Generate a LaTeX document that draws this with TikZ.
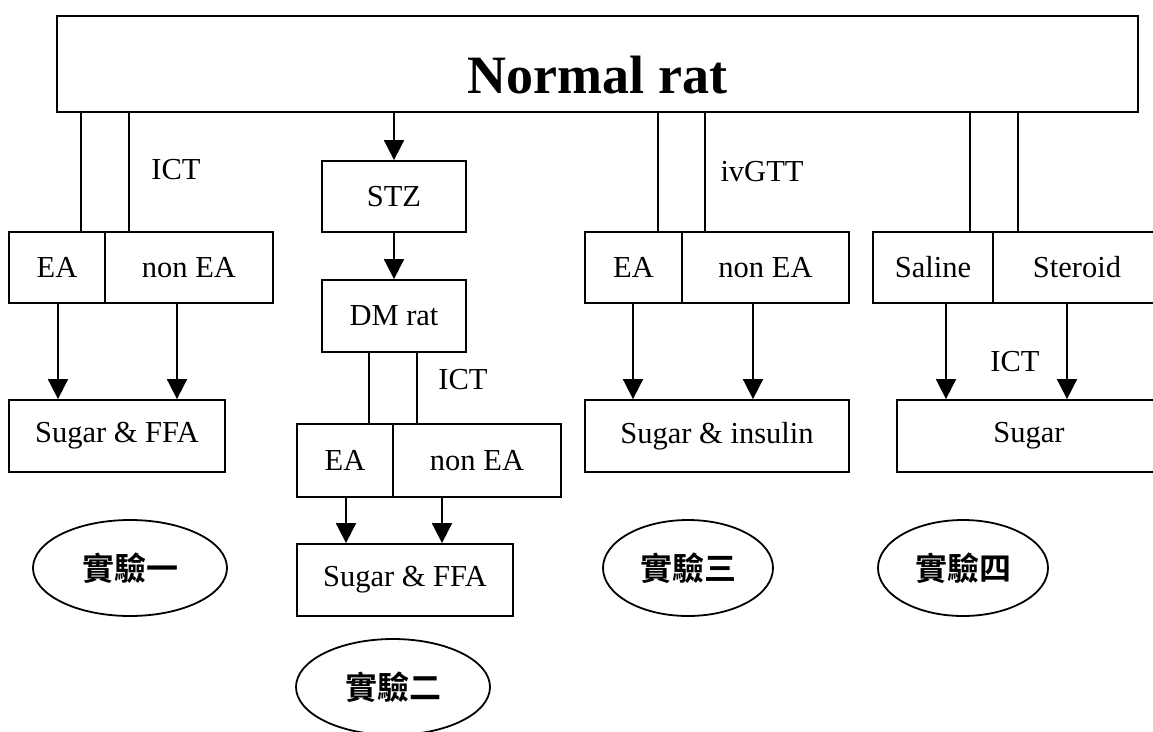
\documentclass[tikz,border=0pt]{standalone}
\usepackage{fontspec}
\setmainfont{Liberation Serif}
\newfontfamily\cjk{Noto Sans CJK TC}[BoldFont={Noto Sans CJK TC Bold}]
\usetikzlibrary{arrows.meta,shapes.geometric}

\begin{document}
\begin{tikzpicture}[x=1pt,y=-1pt,line width=1.8pt,
  every node/.style={font=\fontsize{30.5pt}{36pt}\selectfont},
  box/.style={draw,rectangle,inner sep=0pt},
  arr/.style={-{Triangle[length=20pt,width=20pt]}},
  expt/.style={draw,ellipse,inner sep=0pt,minimum height=96pt,font=\cjk\bfseries\fontsize{32pt}{38pt}\selectfont}]
\useasboundingbox (0,0) rectangle (1153,731);
\clip (0,0) rectangle (1153,731);
% top box
\node[box,minimum width=1081pt,minimum height=96pt] (top) at (597.5,64) {};
\node[anchor=base,font=\bfseries\fontsize{54pt}{60pt}\selectfont] (toptext) at (597.5,93) {Normal rat};
% experiment 1
\node[box,minimum width=96pt,minimum height=71pt] (ea1) at (57,267.5) {EA};
\node[box,minimum width=168pt,minimum height=71pt] (non1) at (189,267.5) {non EA};
\node[box,minimum width=216pt,minimum height=72pt] (sug1) at (117,436) {Sugar \& FFA};
\coordinate (l1a) at (81,232); \coordinate (l1b) at (129,232);
\draw (l1a) -- (l1a |- top.south);
\draw (l1b) -- (l1b |- top.south);
\node (ict1) at (176,170) {ICT};
\coordinate (d1a) at (58,303); \coordinate (d1b) at (177,303);
\draw[arr] (d1a) -- (d1a |- sug1.north);
\draw[arr] (d1b) -- (d1b |- sug1.north);
\node[expt,minimum width=194pt] (exp1) at (130,568) {實驗一};
% experiment 2
\node[box,minimum width=144pt,minimum height=71pt] (stz) at (394,196.5) {STZ};
\node[box,minimum width=144pt,minimum height=72pt] (dm) at (394,316) {DM rat};
\draw[arr] (top.south -| stz.north) -- (stz.north);
\draw[arr] (stz.south) -- (dm.north);
\node[box,minimum width=96pt,minimum height=73pt] (ea2) at (345,460.5) {EA};
\node[box,minimum width=168pt,minimum height=73pt] (non2) at (477,460.5) {non EA};
\node[box,minimum width=216pt,minimum height=72pt] (sug2) at (405,580) {Sugar \& FFA};
\coordinate (l2a) at (369,424); \coordinate (l2b) at (417,424);
\draw (l2a) -- (l2a |- dm.south);
\draw (l2b) -- (l2b |- dm.south);
\node (ict2) at (463,380) {ICT};
\coordinate (d2a) at (346,497); \coordinate (d2b) at (442,497);
\draw[arr] (d2a) -- (d2a |- sug2.north);
\draw[arr] (d2b) -- (d2b |- sug2.north);
\node[expt,minimum width=194pt] (exp2) at (393,687) {實驗二};
% experiment 3
\node[box,minimum width=97pt,minimum height=71pt] (ea3) at (633.5,267.5) {EA};
\node[box,minimum width=167pt,minimum height=71pt] (non3) at (765.5,267.5) {non EA};
\node[box,minimum width=264pt,minimum height=72pt] (sug3) at (717,436) {Sugar \& insulin};
\coordinate (l3a) at (658,232); \coordinate (l3b) at (705,232);
\draw (l3a) -- (l3a |- top.south);
\draw (l3b) -- (l3b |- top.south);
\node (ivgtt) at (762,172) {ivGTT};
\coordinate (d3a) at (633,303); \coordinate (d3b) at (753,303);
\draw[arr] (d3a) -- (d3a |- sug3.north);
\draw[arr] (d3b) -- (d3b |- sug3.north);
\node[expt,minimum width=170pt] (exp3) at (688,568) {實驗三};
% experiment 4
\node[box,minimum width=120pt,minimum height=71pt] (sal) at (933,267.5) {Saline};
\node[box,minimum width=168pt,minimum height=71pt] (ster) at (1077,267.5) {Steroid};
\node[box,minimum width=264pt,minimum height=72pt] (sug4) at (1029,436) {Sugar};
\coordinate (l4a) at (970,232); \coordinate (l4b) at (1018,232);
\draw (l4a) -- (l4a |- top.south);
\draw (l4b) -- (l4b |- top.south);
\node (ict4) at (1015,362) {ICT};
\coordinate (d4a) at (946,303); \coordinate (d4b) at (1067,303);
\draw[arr] (d4a) -- (d4a |- sug4.north);
\draw[arr] (d4b) -- (d4b |- sug4.north);
\node[expt,minimum width=170pt] (exp4) at (963,568) {實驗四};
\end{tikzpicture}
\end{document}
